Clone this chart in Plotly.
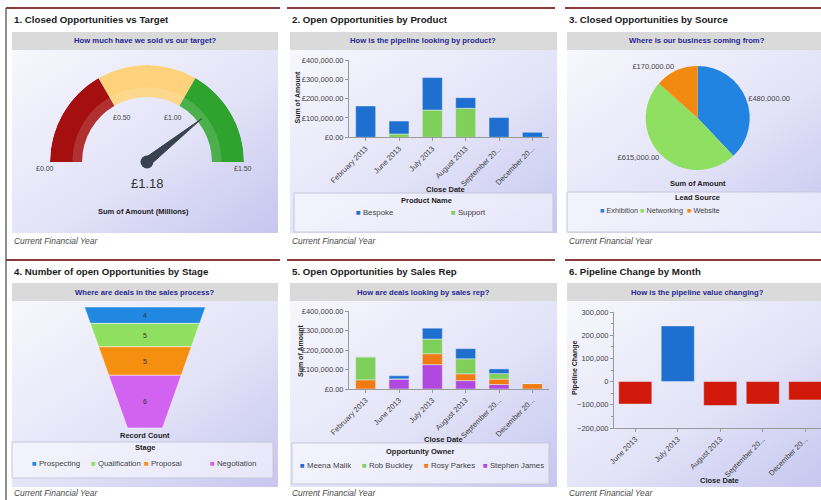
import base64
import plotly.graph_objects as go

W, H = 821, 500
FONT = "Liberation Sans, Arial, sans-serif"

# ---------------- data ----------------
gauge_band_edges = [0.0, 0.5, 1.0, 1.5]
gauge_value = 1.18
gauge_ticks = [0.0, 0.5, 1.0, 1.5]

close_dates = ["February 2013", "June 2013", "July 2013", "August 2013",
               "September 20...", "December 20..."]
products = ["Bespoke", "Support"]
bespoke_amount = [162000, 67000, 168000, 55000, 102000, 26000]
support_amount = [0, 17000, 141000, 150000, 0, 0]

lead_sources = ["Exhibition", "Networking", "Website"]
source_amount = [480000, 615000, 170000]

stages = ["Prospecting", "Qualification", "Proposal", "Negotiation"]
stage_count = [4, 5, 5, 6]

owners = ["Meena Malik", "Rob Buckley", "Rosy Parkes", "Stephen James"]
meena_amount = [0, 16000, 56000, 52000, 24000, 0]
rob_amount = [118000, 0, 75000, 77000, 28000, 0]
rosy_amount = [47000, 0, 56000, 35000, 28000, 28000]
stephen_amount = [0, 52000, 125000, 43000, 23000, 0]

change_dates = ["June 2013", "July 2013", "August 2013", "September 20...", "December 20..."]
pipeline_change = [-97000, 240000, -103000, -97000, -79000]

panel_titles = ["1. Closed Opportunities vs Target", "2. Open Opportunities by Product",
                "3. Closed Opportunities by Source", "4. Number of open Opportunities by Stage",
                "5. Open Opportunities by Sales Rep", "6. Pipeline Change by Month"]
panel_questions = ["How much have we sold vs our target?", "How is the pipeline looking by product?",
                   "Where is our business coming from?", "Where are deals in the sales process?",
                   "How are deals looking by sales rep?", "How is the pipeline value changing?"]
footer_text = "Current Financial Year"

# ---------------- styles ----------------
BLUE = "#1f6fd1"
GREEN = "#7ed05a"
ORANGE = "#f07b12"
PURPLE = "#b048e0"
RED = "#d0190a"
GAUGE_COLORS = ["#a50f0f", "#fdd27a", "#2ea32e"]
PIE_COLORS = ["#2184e0", "#8fe062", "#f28a12"]
FUNNEL_COLORS = ["#2088e0", "#8fe060", "#f48f10", "#d262f0"]


def px(x):
    return x / W


def py(y):
    return 1 - y / H


COLS = [(12, 278), (290, 557), (567, 827)]
RED_LINES = [(6, 280), (287, 555), (565, 821)]
ROWS = [dict(line=8, title=19, head=(32, 50), bot=233, foot=241),
        dict(line=260, title=271, head=(283, 301), bot=487, foot=493)]

fig = go.Figure()

# ---------------- panel 1: gauge (polar) ----------------
span = gauge_band_edges[-1]


def to_deg(v):
    return v / span * 180.0


band_mid = [to_deg((a + b) / 2) for a, b in zip(gauge_band_edges[:-1], gauge_band_edges[1:])]
band_w = [to_deg(b - a) for a, b in zip(gauge_band_edges[:-1], gauge_band_edges[1:])]
fig.add_trace(go.Barpolar(r=[0.33] * 3, base=0.67, theta=band_mid, width=band_w,
                          marker=dict(color=GAUGE_COLORS, line=dict(width=0)),
                          subplot="polar", showlegend=False, hoverinfo="skip"))
fig.add_trace(go.Barpolar(r=[0.1] * 3, base=0.67, theta=band_mid, width=band_w,
                          marker=dict(color="rgba(255,255,255,0.14)", line=dict(width=0)),
                          subplot="polar", showlegend=False, hoverinfo="skip"))
nd = to_deg(gauge_value)
fig.add_trace(go.Scatterpolar(r=[0.72, 0.045, 0.045, 0.72], theta=[nd, nd + 90, nd - 90, nd],
                              mode="lines", fill="toself", fillcolor="#39414f",
                              line=dict(color="#39414f", width=1), subplot="polar",
                              showlegend=False, hoverinfo="skip", cliponaxis=False))
fig.add_trace(go.Scatterpolar(r=[0], theta=[0], mode="markers",
                              marker=dict(size=13, color="#39414f"), subplot="polar",
                              showlegend=False, hoverinfo="skip", cliponaxis=False))

# ---------------- panel 2: stacked bars by product ----------------
fig.add_trace(go.Bar(x=close_dates, y=support_amount, name=products[1], marker_color=GREEN,
                     width=0.6, xaxis="x", yaxis="y", showlegend=False))
fig.add_trace(go.Bar(x=close_dates, y=bespoke_amount, name=products[0], marker_color=BLUE,
                     width=0.6, xaxis="x", yaxis="y", showlegend=False))

# ---------------- panel 3: pie ----------------
fig.add_trace(go.Pie(labels=lead_sources, values=source_amount, sort=False,
                     direction="clockwise", rotation=0,
                     marker=dict(colors=PIE_COLORS, line=dict(width=0)),
                     textposition="outside", texttemplate="£%{value:,.2f}",
                     textfont=dict(size=7.5, color="#444", family=FONT),
                     domain=dict(x=[px(645.7), px(749.7)], y=[py(170), py(66)]),
                     showlegend=False))

# ---------------- panel 4: funnel ----------------
fig.add_trace(go.Funnelarea(labels=stages, values=stage_count, textinfo="value",
                            marker=dict(colors=FUNNEL_COLORS, line=dict(color="white", width=0.5)),
                            textfont=dict(size=7, color="#333", family=FONT),
                            aspectratio=1.0, baseratio=0.29,
                            domain=dict(x=[px(84.5), px(205.5)], y=[py(428), py(307)]),
                            showlegend=False))

# ---------------- panel 5: stacked bars by owner ----------------
for vals, name, col in [(stephen_amount, owners[3], PURPLE), (rosy_amount, owners[2], ORANGE),
                        (rob_amount, owners[1], GREEN), (meena_amount, owners[0], BLUE)]:
    fig.add_trace(go.Bar(x=close_dates, y=vals, name=name, marker_color=col, width=0.6,
                         xaxis="x2", yaxis="y2", showlegend=False))

# ---------------- panel 6: pipeline change ----------------
fig.add_trace(go.Bar(x=change_dates, y=pipeline_change,
                     marker_color=[BLUE if v >= 0 else RED for v in pipeline_change],
                     width=0.78, xaxis="x3", yaxis="y3", showlegend=False))

# ---------------- axes ----------------
tickfont = dict(size=7.5, color="#444", family=FONT)
xcommon = dict(type="category", tickangle=-45, tickfont=tickfont, showline=True,
               linecolor="#9a9a9a", ticks="outside", ticklen=3, tickcolor="#9a9a9a",
               showgrid=False, zeroline=False, fixedrange=True, automargin=False)
ycommon = dict(tickfont=tickfont, showline=True, linecolor="#9a9a9a", ticks="outside",
               ticklen=3, tickcolor="#9a9a9a", showgrid=False, zeroline=False, fixedrange=True,
               automargin=False)

fig.update_layout(
    xaxis=dict(domain=[px(349), px(549)], anchor="y", range=[-0.5, 5.5], **xcommon),
    yaxis=dict(domain=[py(137.3), py(60)], anchor="x", range=[0, 400000], dtick=100000,
               tickprefix="£", tickformat=",.2f", **ycommon),
    xaxis2=dict(domain=[px(349), px(549)], anchor="y2", range=[-0.5, 5.5], **xcommon),
    yaxis2=dict(domain=[py(389), py(311)], anchor="x2", range=[0, 400000], dtick=100000,
                tickprefix="£", tickformat=",.2f", **ycommon),
    xaxis3=dict(domain=[px(614), 1.0], anchor="y3", range=[-0.5, 4.37], **xcommon),
    yaxis3=dict(domain=[py(428), py(312)], anchor="x3", range=[-200000, 300000], dtick=100000,
                tickformat=",d", minor=dict(ticks="outside", dtick=50000, ticklen=2,
                                            tickcolor="#9a9a9a"), **ycommon),
    polar=dict(domain=dict(x=[px(50), px(244)], y=[py(162), py(65)]), sector=[0, 180], hole=0,
               bgcolor="rgba(0,0,0,0)",
               radialaxis=dict(visible=False, range=[0, 1]),
               angularaxis=dict(visible=False, rotation=180, direction="clockwise")),
)

# ---------------- decorations: panels ----------------
svg = ("<svg xmlns='http://www.w3.org/2000/svg' width='200' height='200' viewBox='0 0 200 200' "
       "preserveAspectRatio='none'><defs><linearGradient id='g' x1='0' y1='0' x2='1' y2='1'>"
       "<stop offset='0' stop-color='#f7f7fd'/><stop offset='0.55' stop-color='#e3e3f8'/>"
       "<stop offset='1' stop-color='#c6c6f0'/></linearGradient></defs>"
       "<rect width='200' height='200' fill='url(#g)'/></svg>")
grad_src = "data:image/svg+xml;base64," + base64.b64encode(svg.encode()).decode()

shapes, images, annotations = [], [], []


def rect(x0, y0, x1, y1, fill, line=None, lw=0):
    shapes.append(dict(type="rect", xref="paper", yref="paper", x0=px(x0), x1=px(x1),
                       y0=py(y1), y1=py(y0), fillcolor=fill, layer="below",
                       line=dict(color=line or fill, width=lw)))


def text(x, y, s, size=7.5, color="#222", xanchor="center", angle=0):
    annotations.append(dict(x=px(x), y=py(y), xref="paper", yref="paper", text=s,
                            showarrow=False, xanchor=xanchor, yanchor="middle",
                            textangle=angle, font=dict(size=size, color=color, family=FONT)))


shapes.append(dict(type="line", xref="paper", yref="paper", x0=px(6), x1=px(6), y0=0, y1=py(8),
                   line=dict(color="#6a6a6a", width=1.5)))
k = 0
for r in ROWS:
    for c, (cx0, cx1) in enumerate(COLS):
        lx0, lx1 = RED_LINES[c]
        shapes.append(dict(type="line", xref="paper", yref="paper", x0=px(lx0), x1=px(lx1),
                           y0=py(r["line"]), y1=py(r["line"]),
                           line=dict(color="#8e3b3b", width=2)))
        rect(cx0, r["head"][0], cx1, r["head"][1], "#dadada")
        images.append(dict(source=grad_src, xref="paper", yref="paper", x=px(cx0),
                           y=py(r["head"][1]), sizex=(cx1 - cx0) / W,
                           sizey=(r["bot"] - r["head"][1]) / H, xanchor="left",
                           yanchor="top", sizing="stretch", layer="below"))
        text(cx0, r["title"], "<b>%s</b>" % panel_titles[k], size=9.7, color="#1a1a1a",
             xanchor="left")
        text((cx0 + cx1) / 2, (r["head"][0] + r["head"][1]) / 2,
             "<b>%s</b>" % panel_questions[k], size=7.7, color="#262696")
        text(cx0, r["foot"], "<i>%s</i>" % footer_text, size=8.4, color="#4a4a4a",
             xanchor="left")
        k += 1

# ---------------- gauge labels ----------------
gauge_label_pos = [(45, 168), (121.7, 117), (173.3, 117), (243, 168)]
for v, (gx, gy) in zip(gauge_ticks, gauge_label_pos):
    text(gx, gy, "£%.2f" % v, size=7, color="#444")
text(147, 183, "£%.2f" % gauge_value, size=13, color="#333")
text(143.5, 212, "<b>Sum of Amount (Millions)</b>", size=7.5)

# ---------------- axis titles ----------------
text(297.5, 97, "<b>Sum of Amount</b>", size=7, angle=-90)
text(446, 189, "<b>Close Date</b>", size=7.5)
text(300, 351, "<b>Sum of Amount</b>", size=7, angle=-90)
text(443, 439, "<b>Close Date</b>", size=7.5)
text(575, 368, "<b>Pipeline Change</b>", size=7, angle=-90)
text(719, 480, "<b>Close Date</b>", size=7.5)
text(697.7, 183, "<b>Sum of Amount</b>", size=7.5)
text(145, 435, "<b>Record Count</b>", size=7.5)

# ---------------- legends ----------------
legends = [
    dict(box=(294, 193, 553, 232), title="Product Name", tpos=(426.7, 200), y=213,
         names=products, colors=[BLUE, GREEN], xs=[357, 452], size=7.8),
    dict(box=(567, 192, 830, 232), title="Lead Source", tpos=(697.7, 197), y=211,
         names=lead_sources, colors=PIE_COLORS, xs=[601, 641, 688], size=7.3),
    dict(box=(12, 442, 273, 478), title="Stage", tpos=(145, 447), y=463,
         names=stages, colors=FUNNEL_COLORS, xs=[33, 92, 145, 211], size=7.8),
    dict(box=(292, 443, 549, 484), title="Opportunity Owner", tpos=(420, 451), y=465,
         names=owners, colors=[BLUE, GREEN, ORANGE, PURPLE], xs=[301, 363, 425, 484], size=7.8),
]
for lg in legends:
    bx0, by0, bx1, by1 = lg["box"]
    rect(bx0, by0, bx1, by1, "rgba(250,250,255,0.6)", line="#c6c6da", lw=1)
    text(lg["tpos"][0], lg["tpos"][1], "<b>%s</b>" % lg["title"], size=7.5)
    for name, col, lx in zip(lg["names"], lg["colors"], lg["xs"]):
        text(lx - 3.5, lg["y"], "<span style='color:%s'>■</span> %s" % (col, name),
             size=lg["size"], color="#444", xanchor="left")

fig.update_layout(
    width=W, height=H, autosize=False, margin=dict(l=0, r=0, t=0, b=0, pad=0),
    paper_bgcolor="white", plot_bgcolor="rgba(0,0,0,0)",
    barmode="relative", showlegend=False,
    shapes=shapes, images=images, annotations=annotations,
    font=dict(family=FONT),
)

fig.write_html("out.html", config={"displayModeBar": False})
